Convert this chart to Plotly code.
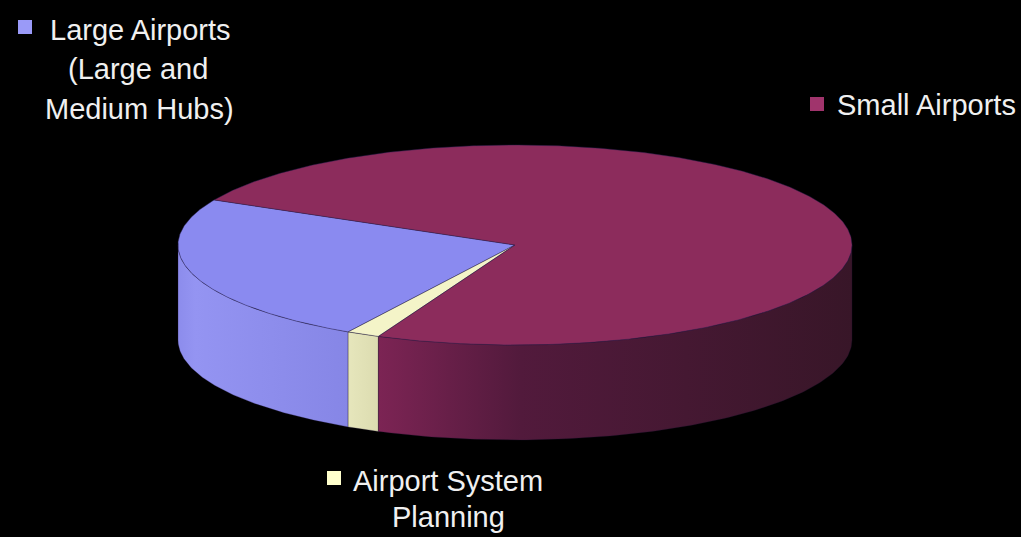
import numpy as np
import plotly.graph_objects as go

# ---- data ----
labels = ["Large Airports (Large and Medium Hubs)", "Airport System Planning", "Small Airports"]
values = [24.2, 1.6, 74.2]
label_lines = [["Large Airports", "(Large and", "Medium Hubs)"],
               ["Airport System", "Planning"],
               ["Small Airports"]]

# ---- styling / geometry (layout, not data) ----
top_colors = ["#8a8af0", "#f4f4c8", "#8c2c5c"]
key_colors = ["#9a9af8", "#ffffcc", "#a0346c"]
side_scales = [
    [[0, "#8c8cec"], [0.1, "#9494f2"], [1, "#8686e6"]],
    [[0, "#e6e6bc"], [1, "#dcdcb0"]],
    [[0, "#7c2454"], [0.3, "#521a3c"], [1, "#381628"]],
]
START_DEG = 153.2
CX, CY, RX, RY, DEPTH = 515, 245, 337, 100, 95
W, H = 1021, 537

# label anchor positions (pixel space): per label, list of (x, y) for each line, and key square
label_pos = [
    {"lines": [(140, 30), (138, 69), (139, 109)], "key": (25, 27)},
    {"lines": [(448, 481), (448, 517)], "key": (334, 478)},
    {"lines": [(926, 105)], "key": (817, 104)},
]


def pt(t_deg, dy=0.0):
    t = np.radians(t_deg)
    return CX + RX * np.cos(t), CY - RY * np.sin(t) + dy


fracs = np.array(values) / np.sum(values)
bounds = START_DEG + np.concatenate([[0], np.cumsum(fracs) * 360])

fig = go.Figure()

# rims (front-visible side walls)
for i in range(len(values)):
    t0, t1 = bounds[i], bounds[i + 1]
    for lo, hi in [(180, 360), (540, 720)]:
        a, b = max(t0, lo), min(t1, hi)
        if b <= a:
            continue
        ts = np.linspace(a, b, 120)
        xt, yt = pt(ts)
        xb, yb = pt(ts[::-1], DEPTH)
        xs = np.concatenate([xt, xb, xt[:1]])
        ys = np.concatenate([yt, yb, yt[:1]])
        fig.add_trace(go.Scatter(
            x=xs, y=ys, mode="lines", fill="toself",
            fillgradient=dict(type="horizontal", colorscale=side_scales[i]),
            line=dict(color="rgba(30,20,50,0.35)", width=0.8),
            hoverinfo="skip", showlegend=False))

# top faces
for i in range(len(values)):
    t0, t1 = bounds[i], bounds[i + 1]
    ts = np.linspace(t0, t1, max(8, int((t1 - t0) * 2)))
    xa, ya = pt(ts)
    xs = np.concatenate([[CX], xa, [CX]])
    ys = np.concatenate([[CY], ya, [CY]])
    fig.add_trace(go.Scatter(
        x=xs, y=ys, mode="lines", fill="toself", fillcolor=top_colors[i],
        line=dict(color="rgba(40,30,80,0.55)", width=0.8),
        name=labels[i], hoverinfo="name", showlegend=False))

# data labels with keys
annotations = []
shapes = []
for i in range(len(values)):
    for text, (x, y) in zip(label_lines[i], label_pos[i]["lines"]):
        annotations.append(dict(
            x=x, y=y, xref="x", yref="y", text=text, showarrow=False,
            xanchor="center", yanchor="middle",
            font=dict(family="Liberation Sans, Arial, sans-serif", size=29, color="#f0f0f0")))
    kx, ky = label_pos[i]["key"]
    s = 7
    shapes.append(dict(type="rect", xref="x", yref="y", x0=kx - s, x1=kx + s, y0=ky - s, y1=ky + s,
                       fillcolor=key_colors[i], line=dict(width=0)))

fig.update_layout(
    width=W, height=H, margin=dict(l=0, r=0, t=0, b=0),
    paper_bgcolor="#000000", plot_bgcolor="#000000",
    xaxis=dict(range=[0, W], visible=False, fixedrange=True),
    yaxis=dict(range=[H, 0], visible=False, fixedrange=True),
    annotations=annotations, shapes=shapes, showlegend=False,
)

fig.write_html("out.html")
